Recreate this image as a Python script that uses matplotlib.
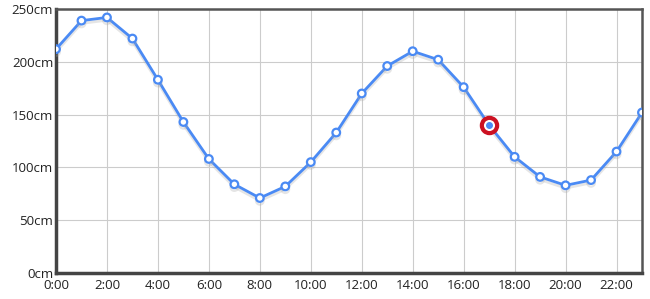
import matplotlib.pyplot as plt
import matplotlib.patheffects as pe

# 每小时潮位 (cm)
hours = list(range(24))
levels = [212, 239, 242, 222, 183, 143, 108, 84, 71, 82, 105, 133,
          170, 196, 210, 202, 176, 140, 110, 91, 83, 88, 115, 152]
highlight_hour = 17
x_ticks = list(range(0, 24, 2))
x_labels = [f'{h}:00' for h in x_ticks]
y_ticks = [0, 50, 100, 150, 200, 250]
y_labels = [f'{v}cm' for v in y_ticks]

plt.rcParams['font.family'] = ['Open Sans', 'DejaVu Sans']

fig = plt.figure(figsize=(6.5, 2.99), dpi=100)
ax = fig.add_axes([56 / 650, 26 / 299, 586 / 650, 264 / 299])

blue = '#4a8af4'
ax.plot(hours, levels, color=blue, lw=2, marker='o', ms=5.5,
        mfc='white', mec=blue, mew=1.6, zorder=3,
        path_effects=[pe.SimpleLineShadow(offset=(0, -2), shadow_color='#aaaaaa', alpha=0.3),
                      pe.Normal()])

i = hours.index(highlight_hour)
ax.plot(hours[i], levels[i], 'o', ms=11, mfc='white', mec='#cc1122', mew=3, zorder=4)
ax.plot(hours[i], levels[i], 'o', ms=4, color=blue, zorder=5)

ax.set_xlim(0, 23)
ax.set_ylim(0, 250)
ax.set_xticks(x_ticks)
ax.set_xticklabels(x_labels)
ax.set_yticks(y_ticks)
ax.set_yticklabels(y_labels)
ax.tick_params(length=0, labelsize=9.5, colors='#222222')
ax.tick_params(axis='x', pad=4)
ax.tick_params(axis='y', pad=2)
ax.grid(True, color='#cccccc', lw=0.8)
ax.set_axisbelow(True)

for side in ['left', 'bottom']:
    ax.spines[side].set_linewidth(2.5)
    ax.spines[side].set_color('#444444')
for side in ['top', 'right']:
    ax.spines[side].set_linewidth(1.8)
    ax.spines[side].set_color('#555555')

fig.savefig('out.png', dpi=100)
